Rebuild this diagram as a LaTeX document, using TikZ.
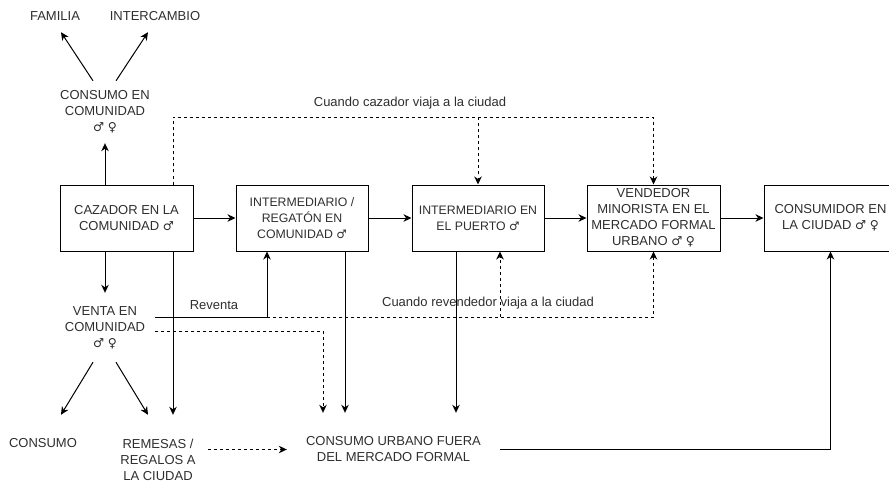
\documentclass[tikz,border=0pt]{standalone}
\usepackage{fontspec}
\setmainfont{Liberation Sans}
\newfontfamily\symfont{DejaVu Sans}[Scale=0.95]
\newcommand{\MaleSym}{{\symfont ♂}}
\newcommand{\FemSym}{{\symfont ♀}}
\usetikzlibrary{arrows.meta,calc}
\begin{document}
\begin{tikzpicture}[x=1pt,y=-1pt,
  txt/.style={font=\fontsize{13}{16}\selectfont, text=black!82, align=center, inner sep=0pt},
  box/.style={txt, draw=black, line width=1pt, minimum width=133pt, minimum height=66pt},
  small/.style={font=\fontsize{12.3}{16}\selectfont},
  arr/.style={draw=black, line width=1pt, -{Stealth[length=8pt,width=7.5pt,inset=2.5pt]}},
  dsh/.style={arr, dash pattern=on 3pt off 3pt}]
\useasboundingbox (0,0) rectangle (889,484);
\clip (0,0) rectangle (889,484);
% boxes
\node[box] (caz) at (126.5,218) {CAZADOR EN LA\\COMUNIDAD \MaleSym};
\node[box, small, minimum width=132pt] (reg) at (302,218) {INTERMEDIARIO /\\REGATÓN EN\\COMUNIDAD \MaleSym};
\node[box, small, minimum width=132pt] (pue) at (478,218) {INTERMEDIARIO EN\\EL PUERTO \MaleSym};
\node[box] (ven) at (653.5,218) {VENDEDOR\\MINORISTA EN EL\\MERCADO FORMAL\\URBANO \MaleSym\ \FemSym};
\node[box] (con) at (830.5,218) {CONSUMIDOR EN\\LA CIUDAD \MaleSym\ \FemSym};
% free texts
\node[txt, minimum width=60pt, minimum height=62pt] (cc) at (105,112) {CONSUMO EN\\COMUNIDAD\\\MaleSym\ \FemSym};
\node[txt, minimum height=32pt] (fam) at (55,16) {FAMILIA};
\node[txt, minimum height=32pt] (int) at (155,16) {INTERCAMBIO};
\node[txt, minimum width=100pt, minimum height=69pt] (venta) at (105,327.5) {VENTA EN\\COMUNIDAD\\\MaleSym\ \FemSym};
\node[txt, minimum height=56pt] (cons) at (43,443) {CONSUMO};
\node[txt, minimum width=100pt, minimum height=89pt] (rem) at (158,459.5) {REMESAS /\\REGALOS A\\LA CIUDAD};
\node[txt, minimum width=213pt, minimum height=73pt] (urb) at (393.5,449.5) {CONSUMO URBANO FUERA\\DEL MERCADO FORMAL};
\node[txt] (l1) at (410,103) {Cuando cazador viaja a la ciudad};
\node[txt] (l2) at (488,303) {Cuando revendedor viaja a la ciudad};
\node[txt] (l3) at (214,305) {Reventa};
% main chain
\draw[arr] (caz.east) -- (reg.west);
\draw[arr] (reg.east) -- (pue.west);
\draw[arr] (pue.east) -- (ven.west);
\draw[arr] (ven.east) -- (con.west);
% community consumption
\draw[arr] (caz.north -| cc.south) -- (cc.south);
\draw[arr] ([xshift=-12pt]cc.north) -- ([xshift=6pt]fam.south);
\draw[arr] ([xshift=11pt]cc.north) -- ([xshift=-7pt]int.south);
% community sale
\draw[arr] (caz.south -| venta.north) -- (venta.north);
\draw[arr] ([xshift=-12pt]venta.south) -- ([xshift=18pt]cons.north);
\draw[arr] ([xshift=11pt]venta.south) -- ([xshift=-10pt]rem.north);
% down to bottom
\draw[arr] ([xshift=46.5pt]caz.south) -- ([xshift=15pt]rem.north);
\draw[arr] ([xshift=43pt]reg.south) -- ([xshift=-48.5pt]urb.north);
\draw[arr] ([xshift=-22pt]pue.south) -- ([xshift=62.5pt]urb.north);
\draw[dsh] (rem.east |- urb.west) -- (urb.west);
\draw[arr] (urb.east) -| (con.south);
% reventa
\path ([yshift=10.5pt]venta.east) coordinate (vo1);
\path ([xshift=-35pt]reg.south) coordinate (ri);
\coordinate (rv) at (ri |- vo1);
\draw[arr] (vo1) -| (ri);
\draw[dsh] (rv) -| (ven.south);
\path ([xshift=22pt]pue.south) coordinate (pb);
\draw[dsh] (rv -| pb) -- (pb);
\draw[dsh] ([yshift=-3.5pt]venta.east) -| ([xshift=-70.5pt]urb.north);
% hunter travels to city
\path ([xshift=46.5pt]caz.north) coordinate (ct);
\draw[dsh] (ct) -- ++(0,-67) coordinate (tt) -| (ven.north);
\draw[dsh] (tt -| pue.north) -- (pue.north);
\end{tikzpicture}
\end{document}
